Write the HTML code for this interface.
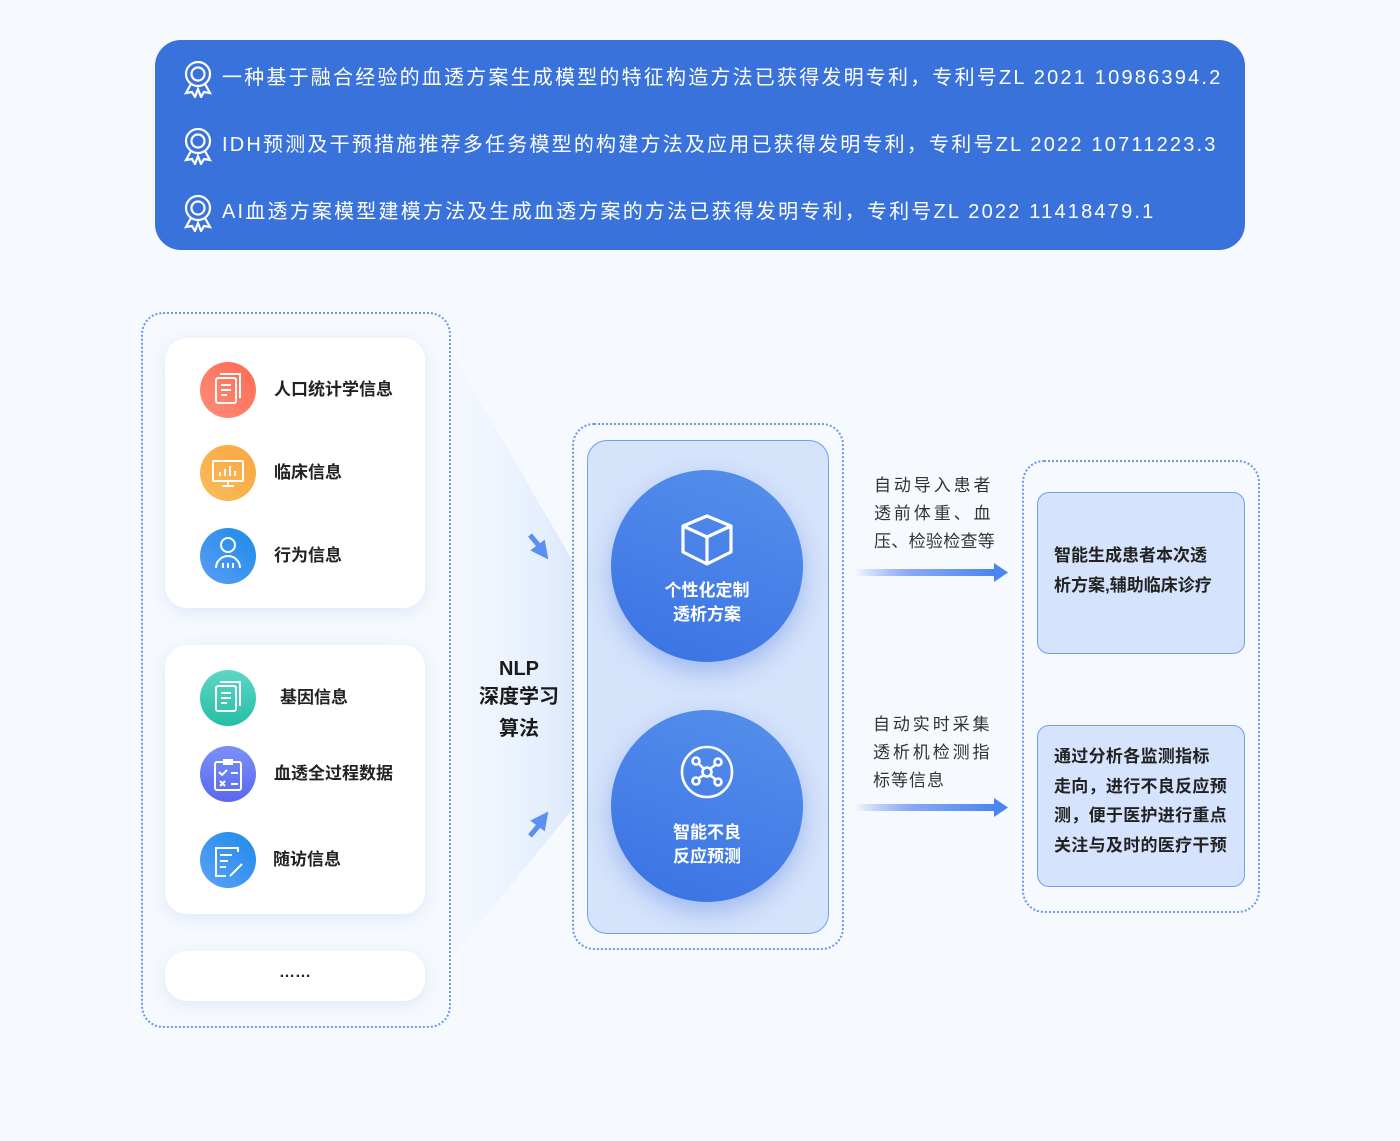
<!DOCTYPE html>
<html><head><meta charset="utf-8"><style>
*{margin:0;padding:0;box-sizing:border-box}
body{width:1400px;height:1141px;background:#f6f9fe;position:relative;overflow:hidden;font-family:"Liberation Sans","Noto Sans CJK SC",sans-serif;color:#222}
.a{position:absolute}
.banner{left:155px;top:40px;width:1090px;height:210px;background:#3a72dc;border-radius:26px}
.bl{position:absolute;left:222px;color:#fff;font-size:20px;letter-spacing:2.2px;white-space:nowrap;line-height:24px}
.medal{position:absolute;left:183px}
.dot{border:2px dotted #6b98ea;border-radius:22px}
.card{background:#fff;border-radius:22px;box-shadow:0 4px 16px rgba(120,160,230,.18)}
.ic{position:absolute;width:56px;height:56px;border-radius:50%;left:200px}
.lt{position:absolute;font-size:17px;font-weight:bold;color:#222;white-space:nowrap;line-height:20px}
.circ{position:absolute;width:192px;height:192px;border-radius:50%;background:linear-gradient(200deg,#5590ec,#3a72e3);box-shadow:0 10px 24px rgba(60,110,220,.35);color:#fff;text-align:center;font-weight:bold;font-size:17px;line-height:24px}
.rt{position:absolute;font-size:17px;color:#333;letter-spacing:2.9px;line-height:28px;white-space:nowrap}
.box{position:absolute;background:#d5e3fc;border:1.5px solid #6f9ff0;border-radius:12px;font-weight:bold;font-size:17px;line-height:29.5px;padding-left:16px;color:#222}
</style></head><body>
<div class="a banner"></div>
<svg class="medal" style="top:60px" width="32" height="38" viewBox="0 0 32 38"><g fill="none" stroke="#fff" stroke-width="2.2"><circle cx="15" cy="14" r="12"/><circle cx="15" cy="14" r="6.5"/><path d="M8 24 L3 33 L9 32 L12 37 L15 29 L18 37 L21 32 L27 33 L22 24"/></g></svg>
<svg class="medal" style="top:127px" width="32" height="38" viewBox="0 0 32 38"><g fill="none" stroke="#fff" stroke-width="2.2"><circle cx="15" cy="14" r="12"/><circle cx="15" cy="14" r="6.5"/><path d="M8 24 L3 33 L9 32 L12 37 L15 29 L18 37 L21 32 L27 33 L22 24"/></g></svg>
<svg class="medal" style="top:194px" width="32" height="38" viewBox="0 0 32 38"><g fill="none" stroke="#fff" stroke-width="2.2"><circle cx="15" cy="14" r="12"/><circle cx="15" cy="14" r="6.5"/><path d="M8 24 L3 33 L9 32 L12 37 L15 29 L18 37 L21 32 L27 33 L22 24"/></g></svg>
<div class="bl" style="top:66px">一种基于融合经验的血透方案生成模型的特征构造方法已获得发明专利，专利号ZL 2021 10986394.2</div>
<div class="bl" style="top:133px">IDH预测及干预措施推荐多任务模型的构建方法及应用已获得发明专利，专利号ZL 2022 10711223.3</div>
<div class="bl" style="top:200px">AI血透方案模型建模方法及生成血透方案的方法已获得发明专利，专利号ZL 2022 11418479.1</div>

<svg class="a" style="left:0;top:0" width="1400" height="1141"><defs><linearGradient id="fg" x1="0" x2="1"><stop offset="0" stop-color="#eef4fe" stop-opacity=".2"/><stop offset="1" stop-color="#dce9fc"/></linearGradient>
<linearGradient id="ag" x1="0" x2="1"><stop offset="0" stop-color="#5a8ff0" stop-opacity="0"/><stop offset=".4" stop-color="#8aa8f5"/><stop offset="1" stop-color="#4a86f0"/></linearGradient></defs>
<polygon points="450,350 572,560 572,810 450,960" fill="url(#fg)"/>
<rect x="855" y="569" width="140" height="7" fill="url(#ag)"/><polygon points="994,563 1008,572.5 994,582" fill="#4a86f0"/>
<rect x="855" y="804" width="140" height="7" fill="url(#ag)"/><polygon points="994,798 1008,807.5 994,817" fill="#4a86f0"/>
<path d="M530 535 L540 547 M535 550 L545 555 L543 544 Z" stroke="#5b8ff0" stroke-width="5" fill="#5b8ff0"/>
<path d="M530 836 L540 824 M535 821 L545 816 L543 827 Z" stroke="#5b8ff0" stroke-width="5" fill="#5b8ff0"/>
</svg>

<div class="a dot" style="left:141px;top:312px;width:310px;height:716px"></div>
<div class="a card" style="left:165px;top:338px;width:260px;height:270px"></div>
<div class="a card" style="left:165px;top:645px;width:260px;height:269px"></div>
<div class="a card" style="left:165px;top:951px;width:260px;height:50px;text-align:center;font-weight:bold;line-height:44px;font-size:16px">……</div>

<div class="ic" style="top:362px;background:linear-gradient(225deg,#ff6a4e,#ff8d7c)"></div>
<div class="ic" style="top:445px;background:linear-gradient(225deg,#f9a640,#fbbc5c)"></div>
<div class="ic" style="top:528px;background:linear-gradient(45deg,#5a9cf8,#1c8ce6)"></div>
<div class="ic" style="top:670px;background:linear-gradient(180deg,#5ed6c6,#24bfa5)"></div>
<div class="ic" style="top:746px;background:linear-gradient(180deg,#7a91f7,#5b67f0)"></div>
<div class="ic" style="top:832px;background:linear-gradient(45deg,#5ba2f8,#1e8ae8)"></div>
<svg class="a" style="left:0;top:0" width="460" height="920"><g fill="none" stroke="#fff" stroke-width="2">
<rect x="216" y="378" width="20" height="25" rx="2"/><path d="M220 374 H240 V398"/><path d="M221 385h10M221 390h10M221 395h6"/>
<rect x="213" y="461" width="30" height="20" rx="1"/><path d="M222 486h12M228 481v5M220 476v-4M225 476v-7M230 476v-10M235 476v-5"/>
<circle cx="228" cy="545" r="7"/><path d="M216 568 a12 12 0 0 1 24 0"/><path d="M223 568v-5M228 568v-5M233 568v-5"/>
<rect x="216" y="686" width="20" height="25" rx="2"/><path d="M220 682 H240 V706"/><path d="M221 693h10M221 698h10M221 703h6"/>
<rect x="215" y="762" width="26" height="28" rx="2"/><path d="M224 760h8v4h-8z M219 772l3 3 5-5 M231 773h7 M220 781l5 5 M225 781l-5 5 M231 784h7"/>
<path d="M238 852 V848 H216 V876 H226"/><path d="M220 855h12M220 861h8M220 867h6M230 876 L242 864"/>
</g></svg>
<div class="lt" style="left:274px;top:380px">人口统计学信息</div>
<div class="lt" style="left:274px;top:463px">临床信息</div>
<div class="lt" style="left:274px;top:546px">行为信息</div>
<div class="lt" style="left:280px;top:688px">基因信息</div>
<div class="lt" style="left:274px;top:764px">血透全过程数据</div>
<div class="lt" style="left:273px;top:850px">随访信息</div>

<div class="a" style="left:470px;top:655px;width:98px;text-align:center;font-weight:bold;font-size:20px;line-height:28px;color:#1a1a1a">NLP<br>深度学习<br><span style="display:inline-block;margin-top:4px">算法</span></div>

<div class="a dot" style="left:572px;top:423px;width:272px;height:527px"></div>
<div class="a" style="left:587px;top:440px;width:242px;height:494px;background:#d5e3fb;border:1.5px solid #6f9ff0;border-radius:20px"></div>
<div class="circ" style="left:611px;top:470px"><svg style="margin-top:42px" width="56" height="56" viewBox="0 0 56 56"><g fill="none" stroke="#fff" stroke-width="3.2" stroke-linejoin="round"><path d="M28 4 L52 14 L28 25 L4 14 Z"/><path d="M4 14 V40 L28 52 V25 M52 14 V40 L28 52"/></g></svg><div style="margin-top:4px">个性化定制<br>透析方案</div></div>
<div class="circ" style="left:611px;top:710px"><svg style="margin-top:34px" width="56" height="56" viewBox="0 0 56 56"><g fill="none" stroke="#fff" stroke-width="2.6"><circle cx="28" cy="28" r="25"/><circle cx="28" cy="28" r="4.5"/><circle cx="17" cy="17" r="3.5"/><circle cx="39" cy="18" r="3.5"/><circle cx="17" cy="37" r="3.5"/><circle cx="39" cy="38" r="3.5"/><path d="M20 20l5 5M36 21l-5 4M20 34l5-3M36 35l-5-4"/></g></svg><div style="margin-top:14px">智能不良<br>反应预测</div></div>

<div class="rt" style="left:874px;top:472px">自动导入患者<br>透前体重、血<br><span style="letter-spacing:0.3px">压、检验检查等</span></div>
<div class="rt" style="left:873px;top:711px">自动实时采集<br>透析机检测指<br><span style="letter-spacing:1px">标等信息</span></div>

<div class="a dot" style="left:1022px;top:460px;width:238px;height:453px"></div>
<div class="box" style="left:1037px;top:492px;width:208px;height:162px;padding-top:48px">智能生成患者本次透<br>析方案,辅助临床诊疗</div>
<div class="box" style="left:1037px;top:725px;width:208px;height:162px;padding-top:16px;letter-spacing:.3px">通过分析各监测指标<br>走向，进行不良反应预<br>测，便于医护进行重点<br>关注与及时的医疗干预</div>
</body></html>
